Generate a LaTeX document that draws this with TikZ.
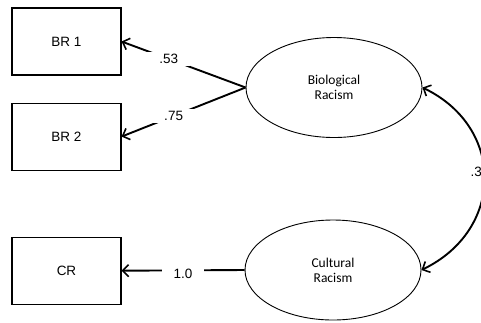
\documentclass[tikz,border=0pt]{standalone}
\usepackage{fontspec}
\setmainfont{Liberation Sans}
\newfontfamily\calfont{Carlito}
\usetikzlibrary{positioning}
\usetikzlibrary{shapes.geometric}
\usetikzlibrary{arrows.meta}

\begin{document}
\begin{tikzpicture}[
  x=1pt, y=-1pt,
  font=\fontsize{13.5}{16}\selectfont,
  obs/.style={draw, line width=1.1pt, minimum width=109pt, minimum height=67pt, inner sep=0pt},
  latent/.style={draw, ellipse, line width=0.9pt, minimum width=176pt, minimum height=100pt,
    align=center, font=\calfont\fontsize{13.5}{15}\selectfont},
  arrow/.style={-{Straight Barb[length=6pt, width=12pt, line width=1.6pt]}, line width=1.9pt},
  dblarrow/.style={{Straight Barb[length=6pt, width=12pt, line width=1.6pt]}-{Straight Barb[length=6pt, width=12pt, line width=1.6pt]}, line width=1.9pt},
  lbl/.style={fill=white, inner xsep=12pt, inner ysep=2pt}
]
\clip (0,0) rectangle (481,322);

\node[obs] (br1) at (66.5,41.5) {BR 1};
\node[obs, below=27pt of br1] (br2) {BR 2};
\node[obs, below=66pt of br2] (cr) {CR};

\node[latent] (bio) at (334,87.5) {Biological\\Racism};
\node[latent] (cult) at (333,270) {Cultural\\Racism};

% loadings
\draw[arrow] (bio.west) -- node[lbl, pos=0.62] {.53} (br1.east);
\draw[arrow] (bio.west) -- node[lbl, pos=0.58] {.75} (br2.east);
\draw[arrow] (cult.west) -- node[lbl, pos=0.5, yshift=-3pt, inner ysep=0pt] {1.0} (cr.east);

% correlation
\draw[dblarrow] (bio.east) .. controls +(83,40) and +(83,-40) .. node[fill=white, pos=0.47, xshift=-4pt, inner xsep=1pt, inner ysep=12pt] {.34} (cult.east);

\end{tikzpicture}
\end{document}
